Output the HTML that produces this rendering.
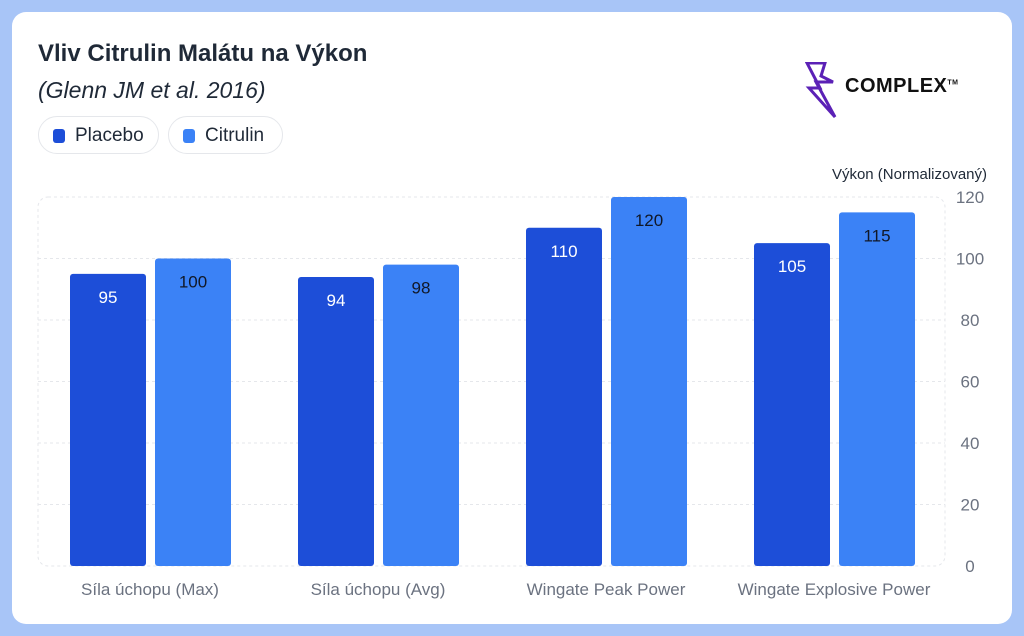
<!DOCTYPE html>
<html><head><meta charset="utf-8"><style>
body{margin:0;width:1024px;height:636px;background:#a8c5f7;font-family:"Liberation Sans",sans-serif;overflow:hidden}
.card{position:absolute;left:12px;top:12px;width:1000px;height:612px;background:#fff;border-radius:14px}
.t{position:absolute;left:38px;top:40px;font-size:24px;font-weight:bold;color:#1f2937}
.s{position:absolute;left:38px;top:77px;font-size:23px;font-style:italic;color:#1f2937}
.pill{position:absolute;top:116px;height:38px;border:1px solid #e5e7eb;border-radius:20px;font-size:19px;color:#1f2937;line-height:38px;box-sizing:border-box}
.pill i{position:absolute;left:14px;top:12px;width:12px;height:14px;border-radius:3px}
</style></head><body>
<div class="card"></div>
<div class="t">Vliv Citrulin Malátu na Výkon</div>
<div class="s">(Glenn JM et al. 2016)</div>
<div class="pill" style="left:38px;width:121px"><i style="background:#1d4ed8"></i><span style="position:absolute;left:36px">Placebo</span></div>
<div class="pill" style="left:168px;width:115px"><i style="background:#3b82f6"></i><span style="position:absolute;left:36px">Citrulin</span></div>
<div style="position:absolute;left:805px;top:62px">
<svg width="45" height="58" style="position:absolute;left:0;top:0"><path d="M2 1 L20 1 L16 14 L28 20 L11 20 L30 55 L4 26 L15 26 Z" fill="none" stroke="#5b21b6" stroke-width="3"/></svg>
<span style="position:absolute;left:40px;top:13px;font-weight:900;font-size:20px;letter-spacing:0.5px;color:#111">COMPLEX<sup style="font-size:7px">TM</sup></span>
</div>
<svg id="c" width="1024" height="636" style="position:absolute;left:0;top:0"></svg>
<script>
const categories=["Síla úchopu (Max)","Síla úchopu (Avg)","Wingate Peak Power","Wingate Explosive Power"];
const placebo=[95,94,110,105];
const citrulin=[100,98,120,115];
const ticks=[0,20,40,60,80,100,120];
const svg=document.getElementById('c');const NS='http://www.w3.org/2000/svg';
const y0=566,y1=197,ymax=120;const y=v=>y0-(v/ymax)*(y0-y1);
const gx=i=>70+i*228;
function el(t,a,txt){const e=document.createElementNS(NS,t);for(const k in a)e.setAttribute(k,a[k]);if(txt!=null)e.textContent=txt;svg.appendChild(e);return e;}
const box=el('rect',{x:38,y:y1,width:907,height:y0-y1,rx:10,fill:'none',stroke:'#e5e7eb','stroke-dasharray':'3 3'});


ticks.forEach(t=>{
 if(t>0&&t<ymax){const l=el('line',{x1:38,x2:945,y1:y(t),y2:y(t),stroke:'#e5e7eb','stroke-dasharray':'3 3'});
 
 }
 const tx=el('text',{x:970,y:y(t)+6,'text-anchor':'middle','font-size':17,fill:'#6b7280'},t);
 
 
});
const yt=el('text',{x:987,y:179,'text-anchor':'end','font-size':15,fill:'#1f2937'},'Výkon (Normalizovaný)');


categories.forEach((c,i)=>{
 [[placebo,'#1d4ed8',0,'#fff'],[citrulin,'#3b82f6',85,'#111827']].forEach(([arr,col,off,tc],j)=>{
  const v=arr[i],x=gx(i)+off;
  const b=el('rect',{x:x,y:y(v),width:76,height:y0-y(v),rx:3,fill:col});
  
  
  const l=el('text',{x:x+38,y:y(v)+29,'text-anchor':'middle','font-size':17,fill:tc},v);
  
  
 });
 const cl=el('text',{x:gx(i)+80,y:595,'text-anchor':'middle','font-size':17,fill:'#6b7280'},c);
 
 
});
</script>
</body></html>
